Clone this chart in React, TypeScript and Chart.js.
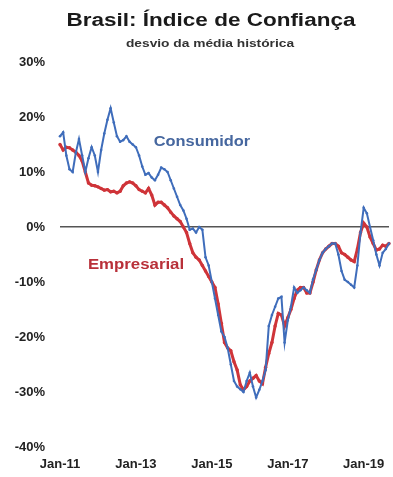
import React, { useEffect, useRef } from "react";
import { Chart, registerables } from "chart.js";

Chart.register(...registerables);

// Month categories Jan-11 .. Sep-19
const monthNames = ["Jan", "Feb", "Mar", "Apr", "May", "Jun", "Jul", "Aug", "Sep", "Oct", "Nov", "Dec"];
const categories: string[] = [];
for (let y = 2011; y <= 2019; y++) {
  for (let m = 0; m < 12; m++) {
    if (y === 2019 && m > 8) break;
    categories.push(`${monthNames[m]}-${String(y).slice(2)}`);
  }
}

const xTickLabels = ["Jan-11", "Jan-13", "Jan-15", "Jan-17", "Jan-19"];
const yTickValues = [-40, -30, -20, -10, 0, 10, 20, 30];

const consumidor = [
  16.5, 17.2, 13, 10.5, 10, 13.5, 16, 13, 10, 12.5, 14.5, 13,
  10, 14, 17, 19.5, 21.6, 19, 16.5, 15.5, 15.8, 16.5, 15.5, 15,
  14.5, 13, 11, 9.5, 9.8, 9, 8.5, 9.5, 10.8, 10.5, 10, 8.5,
  7, 5.5, 4, 3, 1.5, -0.5, -0.3, -1, 0, -0.5, -5.5, -7,
  -10, -13, -16, -19, -20, -22, -25, -28, -29, -29.5, -30, -28,
  -26.5, -29, -31, -29.6, -28, -26, -18, -16, -14.5, -13, -12.7, -21,
  -17, -14.5, -11, -12, -11.5, -11, -11.5, -12, -9.5, -7.8, -6, -4.7,
  -4, -3.5, -3, -3, -5, -8, -9.6, -10, -10.5, -11, -7, -1,
  3.5, 2.5, 0, -2.4, -5, -7, -4.7, -4, -3,
];

const empresarial = [
  15, 14, 14.5, 14.4, 14, 13.6, 13, 12, 10, 8, 7.6, 7.5,
  7.3, 7, 6.7, 6.8, 6.4, 6.5, 6.2, 6.5, 7.5, 8, 8.2, 8,
  7.5, 6.8, 6.5, 6.2, 7, 5.8, 4, 4.5, 4.5, 4, 3.5, 2.7,
  2, 1.5, 1, 0, -1, -3, -4.7, -5.5, -6, -7, -8, -9,
  -10, -11, -14, -17.5, -21, -22, -22.5, -24.5, -26, -28.7, -29.6, -29,
  -28, -27.5, -27, -28, -28.5, -25.5, -23, -21, -18, -15.7, -16, -18,
  -16.5, -15, -13, -11.5, -11, -11, -12, -12, -10, -7.8, -6, -4.7,
  -4, -3.5, -3, -3, -3.5, -4.7, -5, -5.5, -6, -6.3, -4, -1,
  0.7, 0, -1.8, -3, -4.2, -4, -3.3, -3.5, -3,
];

const seriesNames = ["Consumidor", "Empresarial"];
const titleText = "Brasil: Índice de Confiança";
const subtitleText = "desvio da média histórica";

const BLUE = "#3f6dbb";
const RED = "#cf3439";
const FONT = "'Liberation Sans', Arial, sans-serif";

function drawScaled(ctx: CanvasRenderingContext2D, text: string, x: number, y: number, font: string, color: string, sx: number) {
  ctx.save();
  ctx.font = font;
  ctx.fillStyle = color;
  ctx.textAlign = "center";
  ctx.textBaseline = "middle";
  ctx.translate(x, y);
  ctx.scale(sx, 1);
  ctx.fillText(text, 0, 0);
  ctx.restore();
}

const textPlugin = {
  id: "textPlugin",
  afterDraw(chart: any) {
    const ctx = chart.ctx as CanvasRenderingContext2D;
    drawScaled(ctx, titleText, 211, 21, `bold 18px ${FONT}`, "#1a1a1a", 1.25);
    drawScaled(ctx, subtitleText, 210, 44, `bold 11px ${FONT}`, "#333", 1.25);
    drawScaled(ctx, seriesNames[0], 202, 142, `bold 14px ${FONT}`, "#46679f", 1.17);
    drawScaled(ctx, seriesNames[1], 136, 265, `bold 14px ${FONT}`, "#b83039", 1.2);
  },
};

export default function App() {
  const ref = useRef<HTMLCanvasElement>(null);

  useEffect(() => {
    if (!ref.current) return;
    const chart = new Chart(ref.current, {
      type: "line",
      data: {
        labels: categories,
        datasets: [
          {
            label: seriesNames[0],
            data: consumidor,
            borderColor: BLUE,
            backgroundColor: BLUE,
            borderWidth: 2,
            pointRadius: 1.3,
            pointBorderWidth: 0,
            tension: 0,
          },
          {
            label: seriesNames[1],
            data: empresarial,
            borderColor: RED,
            backgroundColor: RED,
            borderWidth: 3,
            pointRadius: 1.7,
            pointBorderWidth: 0,
            tension: 0,
          },
        ],
      },
      options: {
        animation: false,
        responsive: false,
        maintainAspectRatio: false,
        layout: { padding: { top: 62, left: 0, right: 1, bottom: 0 } },
        plugins: {
          legend: { display: false },
          title: { display: false },
          tooltip: { enabled: false },
        },
        scales: {
          x: {
            type: "category",
            offset: false,
            afterFit: (s: any) => {
              s.height = 30;
              s.paddingLeft = 0;
              s.paddingRight = 0;
            },
            grid: { display: false, drawTicks: false },
            border: { display: false },
            ticks: {
              autoSkip: false,
              maxRotation: 0,
              padding: 10,
              color: "#222",
              font: { family: FONT, size: 13, weight: "bold" },
              callback: (_v: any, i: number) => (xTickLabels.includes(categories[i]) ? categories[i] : null),
            },
          },
          y: {
            min: -40,
            max: 30,
            afterFit: (s: any) => {
              s.width = 60;
              s.paddingTop = 0;
              s.paddingBottom = 0;
            },
            afterBuildTicks: (s: any) => {
              s.ticks = yTickValues.map((v) => ({ value: v }));
            },
            grid: {
              drawTicks: false,
              color: (c: any) => (c.tick && c.tick.value === 0 ? "#555" : "rgba(0,0,0,0)"),
              lineWidth: (c: any) => (c.tick && c.tick.value === 0 ? 1.5 : 0),
            },
            border: { display: false },
            ticks: {
              padding: 15,
              color: "#222",
              font: { family: FONT, size: 13, weight: "bold" },
              callback: (v: any) => `${v}%`,
            },
          },
        },
      },
      plugins: [textPlugin],
    });
    return () => chart.destroy();
  }, []);

  return (
    <div style={{ position: "fixed", left: 0, top: 0, width: 393, height: 477, background: "#fff" }}>
      <canvas ref={ref} width={393} height={477} style={{ display: "block" }} />
    </div>
  );
}
